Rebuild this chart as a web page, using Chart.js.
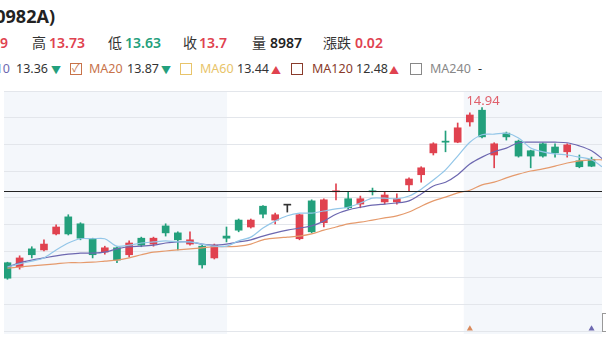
<!DOCTYPE html>
<html>
<head>
<meta charset="utf-8">
<script src="https://cdn.jsdelivr.net/npm/chart.js@4.4.1/dist/chart.umd.min.js"></script>
<style>
	body { margin: 0; width: 606px; height: 341px; overflow: hidden; background: #fff; position: relative;
		font-family: "Noto Sans", "Noto Sans CJK TC", sans-serif; }
	#kline { position: absolute; left: 0; top: 0; }
	.t { position: absolute; white-space: nowrap; line-height: 1; }
	.l2 { top: 36px; font-size: 14px; color: #333; }
	.l3 { top: 63px; font-size: 12.5px; color: #333; }
	.num { font-weight: 600; }
	.up { color: #e0424f; }
	.dn { color: #23a07c; }
	.box { position: absolute; top: 63px; width: 10px; height: 10px; border: 1.5px solid; background: #fff; }
</style>
</head>
<body>

<div class="t" style="top:7px; right:551px; font-size:18px; font-weight:700; color:#222;">(00982A)</div>

<div class="t l2 num up" style="right:598px;">13.69</div>
<div class="t l2" style="left:32px;">高</div>
<div class="t l2 num up" style="left:49px;">13.73</div>
<div class="t l2" style="left:108px;">低</div>
<div class="t l2 num dn" style="left:125px;">13.63</div>
<div class="t l2" style="left:183px;">收</div>
<div class="t l2 num up" style="left:199px;">13.7</div>
<div class="t l2" style="left:252px;">量</div>
<div class="t l2 num" style="left:270px; color:#222;">8987</div>
<div class="t l2" style="left:323px;">漲跌</div>
<div class="t l2 num up" style="left:355px;">0.02</div>

<div class="t l3" style="right:596px; color:#6d68b0;">MA10</div>
<div class="t l3" style="left:16px;">13.36</div>
<div class="t l3 dn" style="left:51px; font-size:10px; top:65px;">▼</div>
<div class="box" style="left:70px; border-color:#c8734a;"></div>
<div class="t l3" style="left:72px; top:62px; font-size:11px; color:#c8734a;">✓</div>
<div class="t l3" style="left:89px; color:#c8734a;">MA20</div>
<div class="t l3" style="left:127px;">13.87</div>
<div class="t l3 dn" style="left:161px; font-size:10px; top:65px;">▼</div>
<div class="box" style="left:180px; border-color:#e8c46a;"></div>
<div class="t l3" style="left:200px; color:#e8c46a;">MA60</div>
<div class="t l3" style="left:237px;">13.44</div>
<div class="t l3 up" style="left:271px; font-size:10px; top:65px;">▲</div>
<div class="box" style="left:291px; border-color:#8a3b2b;"></div>
<div class="t l3" style="left:312px; color:#8a3b2b;">MA120</div>
<div class="t l3" style="left:356px;">12.48</div>
<div class="t l3 up" style="left:389px; font-size:10px; top:65px;">▲</div>
<div class="box" style="left:410px; border-color:#888;"></div>
<div class="t l3" style="left:430px; color:#888;">MA240</div>
<div class="t l3" style="left:478px;">-</div>

<canvas id="kline" width="606" height="341"></canvas>

<script>
// ----- ----- -----
// data
// ----- ----- -----

const days = [1, 2, 3, 4, 5, 6, 7, 8, 9, 10, 11, 12, 13, 14, 15, 16, 17, 18, 19, 20,
	21, 22, 23, 24, 25, 26, 27, 28, 29, 30, 31, 32, 33, 34, 35, 36, 37, 38, 39, 40,
	41, 42, 43, 44, 45, 46, 47, 48, 49];

const open = [12.03, 11.95, 12.29, 12.27, 12.57, 12.89, 12.76, 12.48, 12.23, 12.31,
	12.18, 12.49, 12.38, 12.72, 12.59, 12.38, 12.34, 12.12, 12.53, 12.83,
	12.70, 13.09, 12.83, 13.11, 12.48, 13.19, 12.78, 13.36, 13.23, 13.13,
	13.38, 13.17, 13.17, 13.49, 13.68, 14.09, 14.31, 14.29, 14.67, 14.89,
	14.05, 14.46, 14.31, 14.13, 14.26, 14.20, 14.11, 13.94, 13.97];
const high = [12.04, 12.16, 12.33, 12.46, 12.74, 12.93, 12.78, 12.49, 12.34, 12.33,
	12.44, 12.51, 12.51, 12.76, 12.61, 12.61, 12.36, 12.38, 12.70, 12.85,
	12.85, 13.10, 12.96, 13.11, 12.94, 13.21, 13.23, 13.51, 13.36, 13.28,
	13.43, 13.36, 13.32, 13.62, 13.83, 14.28, 14.50, 14.65, 14.84, 14.94,
	14.28, 14.48, 14.33, 14.14, 14.28, 14.26, 14.26, 14.05, 14.01];
const low = [11.72, 11.91, 12.12, 12.25, 12.55, 12.55, 12.46, 12.12, 12.19, 12.03,
	12.14, 12.33, 12.34, 12.53, 12.27, 12.36, 11.93, 12.10, 12.42, 12.61,
	12.68, 12.87, 12.76, 12.98, 12.46, 12.59, 12.70, 13.21, 13.04, 13.06,
	13.30, 13.13, 13.13, 13.38, 13.54, 14.05, 14.11, 14.28, 14.59, 14.37,
	13.81, 14.33, 14.01, 13.81, 14.01, 14.01, 14.01, 13.81, 13.83];
const close = [11.74, 12.12, 12.18, 12.38, 12.70, 12.57, 12.49, 12.18, 12.31, 12.08,
	12.40, 12.36, 12.49, 12.59, 12.46, 12.46, 11.99, 12.36, 12.49, 12.64,
	12.83, 12.94, 12.93, 13.11, 12.93, 12.61, 13.21, 13.38, 13.06, 13.23,
	13.36, 13.30, 13.23, 13.60, 13.81, 14.26, 14.29, 14.56, 14.80, 14.39,
	14.26, 14.39, 14.03, 14.03, 14.03, 14.09, 14.24, 13.83, 13.84];

// moving averages, one more point than candles so the lines reach the right edge
const ma5 = [11.95, 12.01, 12.06, 12.12, 12.27, 12.40, 12.48, 12.48, 12.48, 12.34,
	12.36, 12.40, 12.42, 12.44, 12.42, 12.42, 12.38, 12.34, 12.34, 12.44,
	12.51, 12.68, 12.81, 12.91, 12.96, 12.96, 13.00, 13.04, 13.07, 13.15,
	13.24, 13.24, 13.23, 13.28, 13.41, 13.58, 13.77, 14.03, 14.29, 14.43,
	14.44, 14.46, 14.37, 14.18, 14.11, 14.07, 14.05, 14.01, 13.96, 13.81];
const ma10 = [11.95, 12.03, 12.08, 12.12, 12.16, 12.19, 12.21, 12.21, 12.23, 12.29,
	12.33, 12.34, 12.36, 12.40, 12.42, 12.42, 12.38, 12.36, 12.38, 12.42,
	12.46, 12.53, 12.59, 12.64, 12.68, 12.72, 12.81, 12.94, 13.02, 13.07,
	13.11, 13.13, 13.15, 13.19, 13.32, 13.47, 13.54, 13.68, 13.88, 14.01,
	14.11, 14.18, 14.28, 14.29, 14.29, 14.29, 14.28, 14.22, 14.13, 13.96];
const ma20 = [11.93, 11.95, 11.97, 11.99, 12.01, 12.03, 12.03, 12.04, 12.06, 12.08,
	12.12, 12.18, 12.23, 12.25, 12.27, 12.29, 12.31, 12.33, 12.33, 12.34,
	12.38, 12.46, 12.49, 12.51, 12.53, 12.57, 12.64, 12.70, 12.76, 12.79,
	12.83, 12.87, 12.91, 12.98, 13.09, 13.19, 13.26, 13.34, 13.39, 13.49,
	13.54, 13.62, 13.69, 13.75, 13.79, 13.84, 13.90, 13.94, 13.96, 13.96];

const gridPrices = [10.75, 11.25, 11.75, 12.25, 12.75, 13.25, 13.75, 14.25, 14.75, 15.25];
const crossPrice = 13.37;
// shaded month bands, in day units
const shadeBands = [[0, 19.05], [38.5, 51]];
// signal markers at the foot of the chart
const signalDays = [39, 49];
const signalPrices = [10.79, 10.79];

// ----- ----- -----
// colours
// ----- ----- -----

const upColor = '#e0424f';
const downColor = '#23a07c';
const flatColor = '#333333';

function candleColor(i) {
	if (close[i] > open[i]) return upColor;
	if (close[i] < open[i]) return downColor;
	return flatColor;
}

let candleColors = days.map((d, i) => candleColor(i));
let bodies = days.map((d, i) => ({x: d, y: [open[i], close[i]]}));
let wicks = days.map((d, i) => ({x: d, y: [low[i], high[i]]}));
let dayAxis = days.concat([days.length + 1]);

function lineData(values) {
	return values.map((v, i) => ({x: dayAxis[i], y: v}));
}

// ----- ----- -----
// plugins
// ----- ----- -----

const bandPlugin = {
	id: 'bands',
	beforeDraw(chart) {
		const {ctx, chartArea, scales} = chart;
		ctx.save();
		ctx.fillStyle = '#f4f7fb';
		shadeBands.forEach(b => {
			let x0 = Math.max(scales.x.getPixelForValue(b[0]), chartArea.left);
			let x1 = Math.min(scales.x.getPixelForValue(b[1]), chartArea.right);
			ctx.fillRect(x0, chartArea.top, x1 - x0, chartArea.bottom - chartArea.top + 3);
		});
		ctx.restore();
	}
};

const overlayPlugin = {
	id: 'overlay',
	afterDatasetsDraw(chart) {
		const {ctx, chartArea, scales} = chart;
		ctx.save();

		// crosshair
		let cy = Math.round(scales.y.getPixelForValue(crossPrice)) + 0.5;
		ctx.strokeStyle = '#222';
		ctx.lineWidth = 1.2;
		ctx.beginPath();
		ctx.moveTo(chartArea.left, cy);
		ctx.lineTo(chartArea.right, cy);
		ctx.stroke();

		// highest price label
		let top = 0;
		high.forEach((h, i) => { if (h > high[top]) top = i; });
		ctx.fillStyle = '#e0606c';
		ctx.font = '13px "Noto Sans", sans-serif';
		ctx.textAlign = 'center';
		ctx.textBaseline = 'alphabetic';
		ctx.fillText(high[top].toFixed(2), scales.x.getPixelForValue(days[top]) + 1, scales.y.getPixelForValue(high[top]) - 3);

		// crosshair price box at the right edge
		ctx.strokeStyle = '#999';
		ctx.lineWidth = 1;
		ctx.fillStyle = '#fff';
		ctx.fillRect(602.5, 313.5, 12, 18);
		ctx.strokeRect(602.5, 313.5, 12, 18);
		ctx.restore();
	}
};

// ----- ----- -----
// chart js
// ----- ----- -----

const kline = new Chart('kline', {
	data: {
		datasets: [{
			type: 'line',
			label: 'MA5',
			data: lineData(ma5),
			borderColor: '#93c6e8',
			borderWidth: 1.2,
			pointRadius: 0,
			tension: 0.3,
			order: 0
		}, {
			type: 'line',
			label: 'MA10',
			data: lineData(ma10),
			borderColor: '#6d68b0',
			borderWidth: 1.2,
			pointRadius: 0,
			tension: 0.3,
			order: 0
		}, {
			type: 'line',
			label: 'MA20',
			data: lineData(ma20),
			borderColor: '#e59a6c',
			borderWidth: 1.2,
			pointRadius: 0,
			tension: 0.3,
			order: 0
		}, {
			type: 'scatter',
			label: 'signal',
			data: signalDays.map((d, i) => ({x: d, y: signalPrices[i]})),
			pointStyle: 'triangle',
			pointRadius: 3.5,
			backgroundColor: ['#d98a5c', '#6d68b0'],
			borderWidth: 0,
			order: 0
		}, {
			type: 'bar',
			label: 'body',
			data: bodies,
			backgroundColor: candleColors,
			barThickness: 7,
			minBarLength: 1,
			grouped: false,
			order: 1
		}, {
			type: 'bar',
			label: 'wick',
			data: wicks,
			backgroundColor: candleColors,
			barThickness: 1,
			grouped: false,
			order: 2
		}]
	},
	options: {
		responsive: false,
		animation: false,
		layout: {
			padding: {top: 91, bottom: 10, left: 0, right: 0}
		},
		plugins: {
			legend: {display: false},
			tooltip: {enabled: false}
		},
		scales: {
			x: {
				type: 'linear',
				display: false,
				offset: false,
				min: 0.716,
				max: 49.86
			},
			y: {
				min: 10.75,
				max: 15.25,
				afterFit: (scale) => { scale.width = 0; },
				afterBuildTicks: (scale) => { scale.ticks = gridPrices.map(v => ({value: v})); },
				ticks: {display: false},
				grid: {color: '#e3e6eb', drawTicks: false},
				border: {display: false}
			}
		}
	},
	plugins: [bandPlugin, overlayPlugin]
});
</script>
</body>
</html>
